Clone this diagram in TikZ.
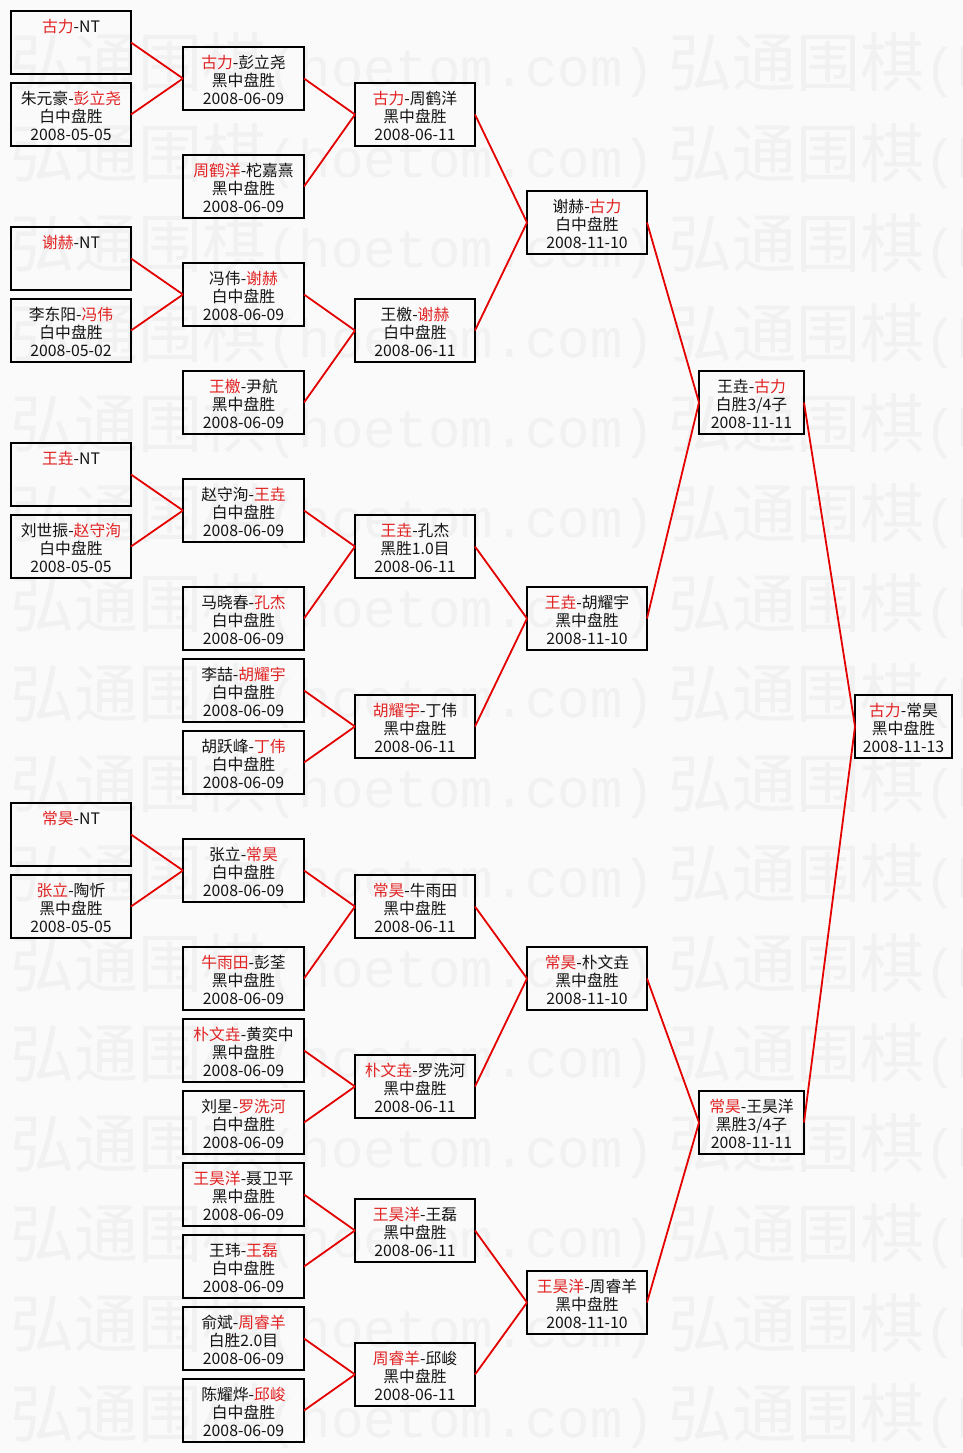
\documentclass[tikz,border=0pt]{standalone}
\usepackage{fontspec}
\setmainfont{Noto Sans CJK SC}
\newfontfamily\wmcjk{Noto Sans CJK SC}
\newfontfamily\wmlat{Liberation Mono}
\definecolor{bg}{gray}{0.98}
\definecolor{wm}{gray}{0.945}
\definecolor{txt}{gray}{0.08}
\definecolor{redtxt}{RGB}{225,35,35}
\definecolor{redline}{RGB}{228,0,0}
\newcommand\R[1]{\textcolor{redtxt}{#1}}
\newcommand\Top{\rule{0pt}{16.5pt}}
\newcommand\NTrest{\\\phantom{黑}\\\phantom{0}}
\tikzset{
  box/.style={draw=black, line width=1.8pt, inner sep=0pt, outer sep=0pt,
    minimum height=63pt, anchor=north west, align=center,
    font=\fontsize{15.8}{18}\selectfont, text=txt},
  wa/.style={box, minimum width=120pt},
  wb/.style={box, minimum width=121pt},
  wc/.style={box, minimum width=105pt},
  wd/.style={box, minimum width=97pt},
  link/.style={draw=redline, line width=1.8pt},
  wmark/.style={anchor=base west, inner sep=0pt, text=wm},
}
\begin{document}
\begin{tikzpicture}[x=1pt,y=-1pt]
\useasboundingbox (0,0) rectangle (963,1453);
\fill[bg] (0,0) rectangle (963,1453);
\begin{scope}
\clip (0,0) rectangle (963,1453);
\foreach \k in {0,...,15}{
  \node[wmark] (wmA\k) at (10,{87+90*\k}) {\wmcjk\fontsize{64}{64}\selectfont 弘通围棋\wmlat\fontsize{54}{54}\selectfont(hoetom.com)};
  \node[wmark] (wmB\k) at (668,{87+90*\k}) {\wmcjk\fontsize{64}{64}\selectfont 弘通围棋\wmlat\fontsize{54}{54}\selectfont(hoetom.com)};
}
\end{scope}

% column 1
\node[wa] (c1a) at (11,11)  {\Top{}\R{古力}-NT\NTrest};
\node[wa] (c1b) at (11,83)  {\Top{}朱元豪-\R{彭立尧}\\白中盘胜\\2008-05-05};
\node[wa] (c1c) at (11,227) {\Top{}\R{谢赫}-NT\NTrest};
\node[wa] (c1d) at (11,299) {\Top{}李东阳-\R{冯伟}\\白中盘胜\\2008-05-02};
\node[wa] (c1e) at (11,443) {\Top{}\R{王垚}-NT\NTrest};
\node[wa] (c1f) at (11,515) {\Top{}刘世振-\R{赵守洵}\\白中盘胜\\2008-05-05};
\node[wa] (c1g) at (11,803) {\Top{}\R{常昊}-NT\NTrest};
\node[wa] (c1h) at (11,875) {\Top{}\R{张立}-陶忻\\黑中盘胜\\2008-05-05};

% column 2
\node[wb] (c2a) at (183,47)   {\Top{}\R{古力}-彭立尧\\黑中盘胜\\2008-06-09};
\node[wb] (c2b) at (183,155)  {\Top{}\R{周鹤洋}-柁嘉熹\\黑中盘胜\\2008-06-09};
\node[wb] (c2c) at (183,263)  {\Top{}冯伟-\R{谢赫}\\白中盘胜\\2008-06-09};
\node[wb] (c2d) at (183,371)  {\Top{}\R{王檄}-尹航\\黑中盘胜\\2008-06-09};
\node[wb] (c2e) at (183,479)  {\Top{}赵守洵-\R{王垚}\\白中盘胜\\2008-06-09};
\node[wb] (c2f) at (183,587)  {\Top{}马晓春-\R{孔杰}\\白中盘胜\\2008-06-09};
\node[wb] (c2g) at (183,659)  {\Top{}李喆-\R{胡耀宇}\\白中盘胜\\2008-06-09};
\node[wb] (c2h) at (183,731)  {\Top{}胡跃峰-\R{丁伟}\\白中盘胜\\2008-06-09};
\node[wb] (c2i) at (183,839)  {\Top{}张立-\R{常昊}\\白中盘胜\\2008-06-09};
\node[wb] (c2j) at (183,947)  {\Top{}\R{牛雨田}-彭荃\\黑中盘胜\\2008-06-09};
\node[wb] (c2k) at (183,1019) {\Top{}\R{朴文垚}-黄奕中\\黑中盘胜\\2008-06-09};
\node[wb] (c2l) at (183,1091) {\Top{}刘星-\R{罗洗河}\\白中盘胜\\2008-06-09};
\node[wb] (c2m) at (183,1163) {\Top{}\R{王昊洋}-聂卫平\\黑中盘胜\\2008-06-09};
\node[wb] (c2n) at (183,1235) {\Top{}王玮-\R{王磊}\\白中盘胜\\2008-06-09};
\node[wb] (c2o) at (183,1307) {\Top{}俞斌-\R{周睿羊}\\白胜2.0目\\2008-06-09};
\node[wb] (c2p) at (183,1379) {\Top{}陈耀烨-\R{邱峻}\\白中盘胜\\2008-06-09};

% column 3
\node[wa] (c3a) at (355,83)   {\Top{}\R{古力}-周鹤洋\\黑中盘胜\\2008-06-11};
\node[wa] (c3b) at (355,299)  {\Top{}王檄-\R{谢赫}\\白中盘胜\\2008-06-11};
\node[wa] (c3c) at (355,515)  {\Top{}\R{王垚}-孔杰\\黑胜1.0目\\2008-06-11};
\node[wa] (c3d) at (355,695)  {\Top{}\R{胡耀宇}-丁伟\\黑中盘胜\\2008-06-11};
\node[wa] (c3e) at (355,875)  {\Top{}\R{常昊}-牛雨田\\黑中盘胜\\2008-06-11};
\node[wa] (c3f) at (355,1055) {\Top{}\R{朴文垚}-罗洗河\\黑中盘胜\\2008-06-11};
\node[wa] (c3g) at (355,1199) {\Top{}\R{王昊洋}-王磊\\黑中盘胜\\2008-06-11};
\node[wa] (c3h) at (355,1343) {\Top{}\R{周睿羊}-邱峻\\黑中盘胜\\2008-06-11};

% column 4
\node[wa] (c4a) at (527,191)  {\Top{}谢赫-\R{古力}\\白中盘胜\\2008-11-10};
\node[wa] (c4b) at (527,587)  {\Top{}\R{王垚}-胡耀宇\\黑中盘胜\\2008-11-10};
\node[wa] (c4c) at (527,947)  {\Top{}\R{常昊}-朴文垚\\黑中盘胜\\2008-11-10};
\node[wa] (c4d) at (527,1271) {\Top{}\R{王昊洋}-周睿羊\\黑中盘胜\\2008-11-10};

% column 5
\node[wc] (c5a) at (699,371)  {\Top{}王垚-\R{古力}\\白胜3/4子\\2008-11-11};
\node[wc] (c5b) at (699,1091) {\Top{}\R{常昊}-王昊洋\\黑胜3/4子\\2008-11-11};

% column 6
\node[wd] (c6) at (855,695) {\Top{}\R{古力}-常昊\\黑中盘胜\\2008-11-13};

% connectors
\foreach \a/\b in {c1a/c2a,c1b/c2a,c1c/c2c,c1d/c2c,c1e/c2e,c1f/c2e,c1g/c2i,c1h/c2i,
  c2a/c3a,c2b/c3a,c2c/c3b,c2d/c3b,c2e/c3c,c2f/c3c,c2g/c3d,c2h/c3d,
  c2i/c3e,c2j/c3e,c2k/c3f,c2l/c3f,c2m/c3g,c2n/c3g,c2o/c3h,c2p/c3h,
  c3a/c4a,c3b/c4a,c3c/c4b,c3d/c4b,c3e/c4c,c3f/c4c,c3g/c4d,c3h/c4d,
  c4a/c5a,c4b/c5a,c4c/c5b,c4d/c5b,c5a/c6,c5b/c6}
  \draw[link] (\a.east) -- (\b.west);
\end{tikzpicture}
\end{document}
